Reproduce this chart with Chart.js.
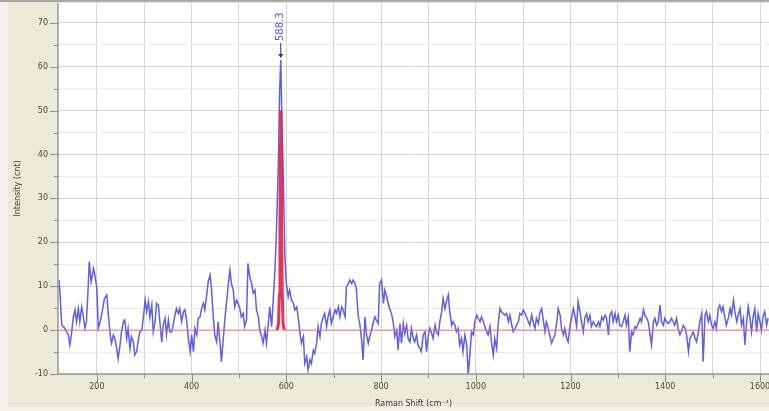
<!DOCTYPE html>
<html>
<head>
<meta charset="utf-8">
<script src="https://cdn.jsdelivr.net/npm/chart.js@4.4.1/dist/chart.umd.min.js"></script>
<style>
  html, body { margin: 0; padding: 0; background: #f3f1ea; }
  #wrap { width: 769px; height: 411px; position: relative; }
</style>
</head>
<body>
<div id="wrap"><canvas id="spectrum" width="769" height="411"></canvas></div>
<script>
// Raman shift positions (cm⁻¹) of the measured spectrum
const ramanShift = [
  120,122,126,129,133,136,140,143,147,150,154,157,161,164,168,171,175,178,182,184,188,193,196,200,
  203,207,210,216,221,224,228,231,235,238,242,245,249,252,256,259,263,266,270,273,277,280,284,288,
  291,295,298,302,305,309,312,316,319,323,326,330,333,337,340,344,347,351,354,358,361,365,368,372,
  375,379,383,386,390,393,397,400,404,407,411,414,418,421,425,428,432,435,439,442,446,449,453,456,
  460,463,467,471,474,478,
  481,484,488,491,495,498,502,505,509,512,516,519,523,527,530,534,537,541,544,548,551,555,558,562,
  565,569,572,576,579,583,586,588.3,590,592,595,597,600,604,607,611,615,618,622,625,629,632,636,639,
  643,646,650,653,657,660,664,667,671,674,678,681,685,688,692,695,699,703,706,710,713,717,720,724,
  727,731,734,738,741,745,748,752,755,759,762,766,769,773,776,780,783,787,790,794,797,801,805,808,
  812,815,819,822,826,829,833,836,840,843,847,850,
  854,857,861,864,868,871,875,878,882,885,889,893,896,900,903,907,910,914,917,921,924,928,931,935,
  938,942,945,949,952,956,959,963,966,970,973,977,981,984,988,991,995,998,1002,1005,1009,1012,1016,1019,
  1023,1026,1030,1033,1037,1040,1044,1047,1051,1054,1058,1061,1065,1069,1072,1076,1079,1083,1086,1090,
  1093,1097,1100,1104,1107,1111,1114,1118,1121,1125,1128,1132,1135,1139,1142,1146,1149,1153,1156,1160,
  1164,1167,1171,1174,1178,1181,1185,1188,1192,1195,1199,1202,1206,1209,1213,1216,1220,1223,1227,
  1230,1234,1237,1241,1244,1248,1252,1255,1259,1262,1266,1269,1273,1276,1280,1283,1287,1290,1294,1297,
  1301,1304,1308,1311,1315,1318,1322,1325,1329,1332,1336,1339,1343,1347,1350,1354,1357,1361,1364,1368,
  1371,1375,1378,1382,1385,1389,1392,1396,1399,1403,1406,1410,1413,1417,1420,1424,1427,1431,1434,1438,
  1442,1445,1449,1452,1456,1459,1463,1466,1470,1473,1477,1480,1484,1487,1491,1494,1498,1501,1505,1508,
  1512,1515,1519,1522,1526,1529,1533,1537,1540,1544,1547,1551,1554,1558,1561,1565,1568,1572,1575,1579,
  1582,1586,1589,1593,1596,1600,1603,1607,1610,1614,1617
];

// Measured intensity (counts) at each shift
const intensity = [
  11.4,8.7,1.1,0.8,0.4,-0.4,-1.1,-3.4,-0.4,2.7,4.6,1.9,4.9,1.9,5.3,3.4,0.4,1.9,10.3,15.6,11,14,12.5,9.5,
  0.4,1.9,3.4,7.2,8,3.8,-0.8,-3,-1.1,-1.9,-4.2,-6.5,-3.4,-0.4,1.9,2.3,-1.9,0.4,-4.2,-1.5,-2.7,-5.7,-4.9,-1.9,
  -0.4,0,2.7,6.8,4.2,6.5,3,5.7,-0.4,1.9,6.1,5.7,1.9,-2.7,1.1,2.7,-1.1,2.3,-0.4,-0.4,1.1,3.4,4.9,3.8,
  4.9,1.9,4.2,4.6,1.9,-1.9,-4.9,-1.1,-4.9,0.4,-1.1,2.7,3,4.9,6.1,4.6,8,11,12.5,9.5,2.7,-1.1,-2.7,1.9,
  -2.7,-7.2,-1.9,3.4,6.5,11,
  13.7,10.6,9.1,5.3,6.8,6.1,4.9,3,3.8,0.8,2.3,15.2,12.1,10.6,8.4,9.1,4.6,3,0,-1.5,-3,0,-3,1.5,
  5.3,0.8,6.1,13.7,22,37,54.7,61.5,52,42,27.3,16.7,10.6,7.6,9.1,6.8,6.1,4.6,5.3,3,-0.8,-3,-1.5,-7.6,
  -6.1,-9.1,-6.8,-7.6,-4.6,-5.3,-3,0.8,-1.5,1.5,3,3.8,0.8,3,4.6,1.5,3,4.6,3.8,5.3,3,5.3,4.6,3,
  9.9,10.6,11.4,10.6,11.4,10.6,9.1,3,1.5,-2.3,-6.8,3,-0.8,-3,-1.5,0,1.5,3,2.3,1.5,10.6,11.4,6.1,9.1,
  7.6,6.1,4.6,3.8,1.5,-1.5,0,-4.6,1.5,-3,1.5,-0.8,
  1.1,-1.9,-2.7,0.4,-1.9,-2.7,-1.1,-3.4,-4.2,-4.9,-1.1,-0.4,-4.9,-1.1,0.4,-0.8,-1.9,1.1,-0.4,-1.1,1.9,4.2,7.2,4.9,
  6.5,8,4.2,1.1,1.9,1.1,-0.4,0.4,-3.4,-1.9,-4.9,-1.1,-3.4,-10.3,-4.9,-0.4,-1.1,1.9,3.4,2.7,1.9,3,1.9,0.8,
  -0.4,-1.1,0.8,-2.7,-5.7,-1.9,-4.2,1.1,4.9,4.2,3.8,3.4,3.8,1.9,3.4,1.1,-0.4,0.4,1.1,1.9,
  3.8,3.4,4.6,3.8,3,1.9,1.1,3.4,1.9,0.4,2.7,1.5,3.8,4.9,2.7,-0.4,1.9,0.4,-1.1,-3,
  -1.9,-1.1,1.9,4.9,3.4,0.4,-1.1,0.4,-1.9,-2.7,1.1,2.7,4.9,3.4,0.8,6.5,4.2,1.9,-0.4,
  2.7,3.8,1.9,3.4,0.8,1.9,1.1,0.8,1.9,0.8,3,2.3,3.4,2.7,-1.1,3.4,4.2,1.9,3.8,1.9,
  3.4,1.1,0.8,1.9,3.4,1.1,3,-4.9,-0.4,-1.1,0.8,0.4,1.5,2.7,1.9,4.6,3.4,2.7,1.9,-1.1,
  -3.4,1.9,2.7,1.1,1.9,5.7,1.9,1.1,2.7,1.9,1.5,1.9,2.7,1.9,1.1,2.7,0.4,-1.1,-0.4,1.1,
  0.4,-1.1,-4.9,-1.9,-1.1,-0.4,-1.9,-2.7,-0.4,1.9,3.8,-7.2,3.4,4.2,1.9,3.4,1.1,0.4,1.9,0.4,
  4.9,5.7,4.2,5.3,2.7,1.1,2.7,4.9,3.4,6.8,4.2,1.9,3.4,4.9,1.1,2.7,-3.4,1.9,5.3,2.7,
  -0.4,3.4,4.9,-0.4,3.8,1.9,0,3.4,4.2,1.1,2.7
];

// Fitted peak curve (flat baseline with a single band)
const fitShift     = [118, 581, 583.5, 585.2, 586.6, 587.6, 588.3, 589.0, 590.0, 591.4, 593.1, 595.6, 1619];
const fitIntensity = [0,   0,   1.5,   8,     24,    42,    50,    42,    24,    8,     1.5,   0,     0];

// Axis ticks
const xMajorTicks = [200, 400, 600, 800, 1000, 1200, 1400, 1600];
const xMinorTicks = [300, 500, 700, 900, 1100, 1300, 1500];
const yMajorTicks = [-10, 0, 10, 20, 30, 40, 50, 60, 70];
const yMinorTicks = [-5, 5, 15, 25, 35, 45, 55, 65];

// Annotated band position
const peakShift = 588.3;
const peakLabel = '588.3';

const toPoints = (xs, ys) => xs.map((x, i) => ({ x: x, y: ys[i] }));
const asTicks = (major, minor) => major.concat(minor).sort((a, b) => a - b).map(v => ({ value: v }));

const FONT = 'DejaVu Sans';

// Beige frame, gray top edge, axis lines and tick marks
const framePlugin = {
  id: 'frame',
  beforeDraw(chart) {
    const { ctx, chartArea: a, width, height } = chart;
    ctx.save();
    ctx.fillStyle = '#f3f1ea';
    ctx.fillRect(0, 0, width, height);
    ctx.fillStyle = '#ece9d8';
    ctx.fillRect(8, 0, width - 8, 407);
    ctx.fillStyle = '#ffffff';
    ctx.fillRect(a.left, a.top, a.right - a.left, a.bottom - a.top);
    ctx.restore();
  },
  afterDraw(chart) {
    const { ctx, chartArea: a, scales } = chart;
    ctx.save();
    ctx.fillStyle = '#a9a9a4';
    ctx.fillRect(0, 0, chart.width, 2);
    ctx.strokeStyle = '#9a9a94';
    ctx.lineWidth = 1.5;
    ctx.beginPath();
    ctx.moveTo(a.left, a.top);
    ctx.lineTo(a.left, a.bottom);
    ctx.lineTo(a.right, a.bottom);
    ctx.stroke();
    ctx.lineWidth = 1;
    ctx.strokeStyle = '#8c8c88';
    ctx.beginPath();
    yMajorTicks.concat(yMinorTicks).forEach(v => {
      const y = Math.round(scales.y.getPixelForValue(v)) + 0.5;
      const len = yMajorTicks.includes(v) ? 8 : 4;
      ctx.moveTo(a.left - len, y);
      ctx.lineTo(a.left, y);
    });
    xMajorTicks.concat(xMinorTicks).forEach(v => {
      const x = Math.round(scales.x.getPixelForValue(v)) + 0.5;
      const len = xMajorTicks.includes(v) ? 8 : 4;
      ctx.moveTo(x, a.bottom);
      ctx.lineTo(x, a.bottom + len);
    });
    ctx.stroke();
    ctx.restore();
  }
};

// Vertical label with arrow above the annotated band
const peakLabelPlugin = {
  id: 'peakLabel',
  afterDatasetsDraw(chart) {
    const { ctx, scales } = chart;
    const idx = ramanShift.indexOf(peakShift);
    const px = scales.x.getPixelForValue(peakShift);
    const py = scales.y.getPixelForValue(intensity[idx]);
    ctx.save();
    ctx.strokeStyle = '#2e2e8a';
    ctx.fillStyle = '#2e2e8a';
    ctx.lineWidth = 1;
    ctx.beginPath();
    ctx.moveTo(px, py - 17);
    ctx.lineTo(px, py - 3);
    ctx.stroke();
    ctx.beginPath();
    ctx.moveTo(px - 2.5, py - 6);
    ctx.lineTo(px + 2.5, py - 6);
    ctx.lineTo(px, py - 2);
    ctx.closePath();
    ctx.fill();
    ctx.translate(px, py - 19);
    ctx.rotate(-Math.PI / 2);
    ctx.font = '10px ' + FONT;
    ctx.fillStyle = '#5555dd';
    ctx.textAlign = 'left';
    ctx.textBaseline = 'middle';
    ctx.fillText(peakLabel, 0, 0);
    ctx.restore();
  }
};

new Chart(document.getElementById('spectrum'), {
  type: 'line',
  data: {
    datasets: [
      {
        label: 'Spectrum',
        data: toPoints(ramanShift, intensity),
        borderColor: 'rgba(78, 78, 226, 0.9)',
        borderWidth: 1.5,
        pointRadius: 0,
        tension: 0,
        order: 2
      },
      {
        label: 'Fit',
        data: toPoints(fitShift, fitIntensity),
        borderColor: 'rgba(235, 40, 80, 0.9)',
        borderWidth: 1,
        segment: {
          borderWidth: c => (c.p0.parsed.y > 0.5 || c.p1.parsed.y > 0.5) ? 3 : 1,
          borderColor: c => (c.p0.parsed.y > 0.5 || c.p1.parsed.y > 0.5) ? 'rgba(230, 30, 70, 0.9)' : 'rgba(240, 110, 130, 0.9)'
        },
        pointRadius: 0,
        tension: 0,
        order: 1
      }
    ]
  },
  options: {
    responsive: false,
    animation: false,
    events: [],
    layout: { padding: { top: 3, left: 0, right: 0, bottom: 0 } },
    plugins: { legend: { display: false }, tooltip: { enabled: false } },
    scales: {
      x: {
        type: 'linear',
        min: 118,
        max: 1619,
        afterBuildTicks: s => { s.ticks = asTicks(xMajorTicks, xMinorTicks); },
        afterFit: s => { s.height = 37; s.paddingLeft = 0; s.paddingRight = 0; },
        ticks: {
          autoSkip: false,
          maxRotation: 0,
          padding: 8,
          color: '#4a4a46',
          font: { family: FONT, size: 8 },
          callback: v => xMajorTicks.includes(v) ? String(v) : ''
        },
        grid: { drawTicks: false, color: '#d6d6d6', lineWidth: 1 },
        border: { display: false },
        title: {
          display: true,
          text: 'Raman Shift (cm⁻¹)',
          color: '#3a3a36',
          font: { family: FONT, size: 8 },
          padding: { top: 0, bottom: 2 }
        }
      },
      y: {
        type: 'linear',
        min: -10,
        max: 74.5,
        afterBuildTicks: s => { s.ticks = asTicks(yMajorTicks, yMinorTicks); },
        afterFit: s => { s.width = 58; s.paddingTop = 0; s.paddingBottom = 0; },
        ticks: {
          autoSkip: false,
          padding: 10,
          color: '#4a4a46',
          font: { family: FONT, size: 8 },
          callback: v => yMajorTicks.includes(v) ? String(v) : ''
        },
        grid: {
          drawTicks: false,
          color: c => yMajorTicks.includes(c.tick.value) ? '#d6d6d6' : '#ececec',
          lineWidth: 1
        },
        border: { display: false },
        title: {
          display: true,
          text: 'Intensity (cnt)',
          color: '#3a3a36',
          font: { family: FONT, size: 8 },
          padding: { top: 13, bottom: 0 }
        }
      }
    }
  },
  plugins: [framePlugin, peakLabelPlugin]
});
</script>
</body>
</html>
